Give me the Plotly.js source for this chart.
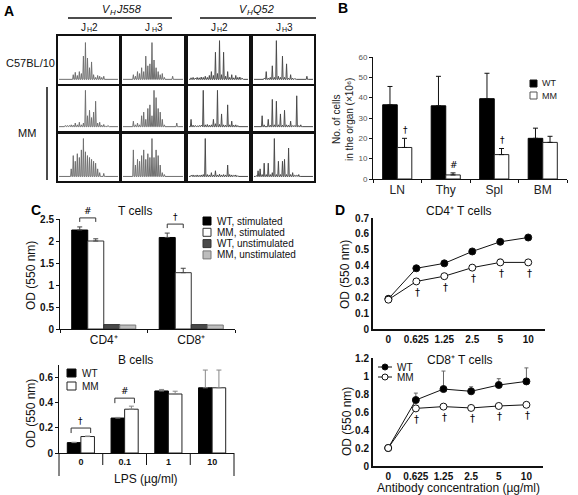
<!DOCTYPE html>
<html><head><meta charset="utf-8">
<script src="https://cdn.plot.ly/plotly-3.0.1.min.js"></script>
<style>html,body{margin:0;padding:0;background:#fff}#chart{width:578px;height:495px}</style>
</head><body><div id="chart"></div>
<script>
const W = 578, H = 495;
const FONT = 'Liberation Sans, Arial, Helvetica, sans-serif';
const SYMF = 'DejaVu Sans, Liberation Sans, sans-serif';

// ---------- Panel A: spectratype peak heights (relative) ----------
// gene labels: [main letter, subscript, rest]
const groupsA = [['V', 'H', 'J558'], ['V', 'H', 'Q52']];
const jLabelsA = [['J', 'H', '2'], ['J', 'H', '3'], ['J', 'H', '2'], ['J', 'H', '3']];
const strainsA = ['C57BL/10', 'MM'];
const c57_J558_JH2 = [0,0,0,0,0,0,0.12,0.18,0.1,0.2,0.15,0.6,0.95,0.55,0.3,0.45,0.12,0.05,0.1,0.08,0.05,0.08,0,0,0,0,0,0];
const c57_J558_JH3 = [0,0,0,0,0.12,0.08,0.2,0.15,0.3,0.2,0.6,0.35,0.4,0.95,0.5,0.3,0.2,0.12,0.15,0.05,0,0,0,0.08,0,0,0,0];
const c57_Q52_JH2  = [0.04,0.05,0.03,0.05,0.04,0.06,0.05,0.08,0.05,0.1,0.2,0.1,0.7,0.15,1.0,0.12,0.7,0.08,0.2,0.05,0.12,0.04,0.1,0.05,0.06,0.03,0,0];
const c57_Q52_JH3  = [0,0,0,0,0.03,0.2,0.03,0.05,0.35,0.05,1.0,0.08,0.05,0.6,0.05,0.4,0.03,0.12,0.03,0.02,0,0,0,0,0,0.08,0,0];
const mm1_J558_JH2 = [0.02,0.02,0.03,0.03,0.03,0.05,0.04,0.1,0.05,0.12,0.05,0.1,1.0,0.3,0.45,0.25,0.4,0.7,0.1,0.12,0.04,0.06,0.02,0.03,0,0,0,0];
const mm1_J558_JH3 = [0,0,0,0,0.15,0.05,0.1,0.05,0.3,0.4,0.2,0.5,0.6,0.3,1.0,0.8,0.5,0.4,0.2,0.05,0.02,0,0,0,0,0.1,0,0];
const mm1_Q52_JH2  = [0.2,0.04,0.03,0.02,0.03,0.04,1.0,0.05,0.06,0.04,0.05,0.2,0.08,1.0,0.06,0.35,0.05,0.04,0.6,0.05,0.15,0.04,0.05,0.03,0.02,0,0,0];
const mm1_Q52_JH3  = [0,0,0.02,0.3,0.05,0.02,0.2,0.04,0.75,0.05,0.7,0.05,0.35,0.04,0.45,0.05,0.04,0.15,0.03,0.03,0.85,0.03,0.05,0,0,0,0,0];
const mm2_J558_JH2 = [0,0,0,0,0,0.2,0.55,0.4,0.6,0.5,0.7,1.0,0.65,0.55,0.5,0.45,0.4,0.35,0.2,0.1,0,0.08,0,0,0,0,0,0];
const mm2_J558_JH3 = [0,0,0,0,0.7,0.3,0.45,0.4,0.55,0.7,0.45,0.6,0.5,1.0,0.5,0.7,0.55,0.3,0.1,0.05,0,0,0,0,0,0,0,0];
const mm2_Q52_JH2  = [0.03,0.04,0.03,0.04,0.03,0.04,0.05,1.0,0.05,0.04,0.1,0.04,0.15,0.04,0.06,0.04,0.05,0.04,0.3,0.05,0.04,0.03,0.04,0.02,0,0,0,0];
const mm2_Q52_JH3  = [0.02,0.15,0.2,0.05,0.35,0.05,0.35,0.05,0.1,1.0,0.05,0.4,0.05,0.4,0.45,0.05,0.75,0.05,0.1,0.03,0.03,0.05,0,0,0,0,0,0];

// ---------- Panel B ----------
const organsB = ['LN', 'Thy', 'Spl', 'BM'];
const wtB = [36.5, 36, 39.5, 20];
const wtErrB = [9, 14.5, 12.5, 5];
const mmB = [15.5, 2, 12, 18];
const mmErrB = [4.5, 1, 3, 3];
const sigB = ['†', '#', '†', ''];

// ---------- Panel C (T cells) ----------
const subsetsC = ['CD4⁺', 'CD8⁺'];
const wtStimC = [2.25, 2.08], wtStimErrC = [0.07, 0.1];
const mmStimC = [2.0, 1.28], mmStimErrC = [0.05, 0.1];
const wtUnstimC = [0.1, 0.1];
const mmUnstimC = [0.09, 0.09];
const sigC = ['#', '†'];
const legendC = ['WT, stimulated', 'MM, stimulated', 'WT, unstimulated', 'MM, unstimulated'];

// ---------- Panel C (B cells) ----------
const lpsC = ['0', '0.1', '1', '10'];
const wtLps = [0.082, 0.276, 0.49, 0.515], wtLpsErr = [0.003, 0.005, 0.012, 0.14];
const mmLps = [0.13, 0.346, 0.466, 0.515], mmLpsErr = [0.004, 0.024, 0.022, 0.14];
const sigLps = ['†', '#', '', ''];

// ---------- Panel D ----------
const concD = ['0', '0.625', '1.25', '2.5', '5', '10'];
const wtCD4 = [0.19, 0.383, 0.414, 0.489, 0.55, 0.577], wtCD4Err = [0.005, 0.01, 0.01, 0.01, 0.012, 0.01];
const mmCD4 = [0.185, 0.30, 0.333, 0.387, 0.42, 0.42], mmCD4Err = [0.005, 0.015, 0.012, 0.015, 0.02, 0.01];
const sigCD4 = ['', '†', '†', '†', '†', '†'];
const wtCD8 = [0.2, 0.733, 0.855, 0.83, 0.9, 0.94], wtCD8Err = [0.005, 0.077, 0.2, 0.05, 0.07, 0.15];
const mmCD8 = [0.2, 0.64, 0.66, 0.645, 0.667, 0.68], mmCD8Err = [0.005, 0.01, 0.01, 0.01, 0.01, 0.01];
const sigCD8 = ['', '†', '†', '†', '†', '†'];

// ---------- layout geometry (pixels) ----------
const colsA = [[58,119],[122,184],[188,249],[253,314]];
const rowsA = [[36,84],[86,131],[134,181]];
const gridA = [
  [c57_J558_JH2, c57_J558_JH3, c57_Q52_JH2, c57_Q52_JH3],
  [mm1_J558_JH2, mm1_J558_JH3, mm1_Q52_JH2, mm1_Q52_JH3],
  [mm2_J558_JH2, mm2_J558_JH3, mm2_Q52_JH2, mm2_Q52_JH3]
];
const G = {
  B:  {id:13, x0:373, x1:567, y0:179, y1:57,  xr:[-0.5,3.5],  yr:[0,60]},
  CT: {id:14, x0:60,  x1:235, y0:329, y1:219, xr:[-0.5,1.5],  yr:[0,2.5]},
  CB: {id:15, x0:59,  x1:234, y0:453, y1:365, xr:[-0.5,3.5],  yr:[0,0.695]},
  DT: {id:16, x0:373, x1:545, y0:329, y1:218, xr:[-0.55,5.6], yr:[0,0.7]},
  DB: {id:17, x0:373, x1:543, y0:466, y1:358, xr:[-0.55,5.6], yr:[0,1.2]}
};
const PX = p => p / W, PY = p => 1 - p / H;
function toPx(g, xv, yv) {
  return [g.x0 + (xv - g.xr[0]) / (g.xr[1] - g.xr[0]) * (g.x1 - g.x0),
          g.y0 - (yv - g.yr[0]) / (g.yr[1] - g.yr[0]) * (g.y0 - g.y1)];
}

const traces = [];
const layout = {
  width: W, height: H, margin: {l:0, r:0, t:0, b:0},
  paper_bgcolor: '#fff', plot_bgcolor: 'rgba(0,0,0,0)',
  showlegend: false, font: {family: FONT, color: '#111'},
  annotations: [], shapes: []
};
const ann = (x, y, text, o = {}) => layout.annotations.push(Object.assign({
  xref:'paper', yref:'paper', x:PX(x), y:PY(y), text, showarrow:false,
  font:{family:FONT, size:11, color:'#111'}, xanchor:'center', yanchor:'middle'}, o));
const line = (x0, y0, x1, y1, color = '#111', width = 1) => layout.shapes.push({
  type:'line', xref:'paper', yref:'paper', x0:PX(x0), y0:PY(y0), x1:PX(x1), y1:PY(y1),
  line:{color, width}});
const rect = (x0, y0, x1, y1, fill, lc = '#111') => layout.shapes.push({
  type:'rect', xref:'paper', yref:'paper', x0:PX(x0), y0:PY(y0), x1:PX(x1), y1:PY(y1),
  fillcolor:fill, line:{color:lc, width:1}});
const sym = (x, y, s, size) => ann(x, y, s, {font:{family:SYMF, size:size, color:'#000'}});
// label with a subscript, drawn as three pieces: main, subscript, rest
function subLabel(x, y, parts, size, wSub, italic) {
  const st = italic ? 'italic' : 'normal';
  const shift = italic ? 2.5 : 0;
  ann(x + shift, y, parts[0], {xanchor:'right', borderpad:0, font:{family:FONT, size:size, style:st, color:'#111'}});
  ann(x - 0.5, y + size * 0.3, parts[1], {xanchor:'left', borderpad:0, font:{family:FONT, size:Math.round(size * 0.7), style:st, color:'#111'}});
  ann(x - 0.5 + wSub, y, parts[2], {xanchor:'left', borderpad:0, font:{family:FONT, size:size, style:st, color:'#111'}});
}

// ---------- Panel A ----------
let n = 0;
rowsA.forEach((r, ri) => colsA.forEach((c, ci) => {
  n++;
  const id = n === 1 ? '' : String(n);
  const pk = gridA[ri][ci];
  const xs = [-1], ys = [0];
  pk.forEach((h, k) => { xs.push(k - 0.3, k, k + 0.3); ys.push(0, h, 0); });
  xs.push(pk.length); ys.push(0);
  traces.push({type:'scatter', mode:'lines', x:xs, y:ys, xaxis:'x'+id, yaxis:'y'+id,
    line:{color: ci >= 2 ? '#4a4a4a' : '#707070', width:1}, hoverinfo:'skip'});
  const ax = {showline:true, mirror:true, linewidth:2, linecolor:'#111', showticklabels:false,
    ticks:'', showgrid:false, zeroline:false};
  layout['xaxis'+id] = Object.assign({domain:[PX(c[0]), PX(c[1])], range:[-1.5, pk.length + 0.5], anchor:'y'+id}, ax);
  layout['yaxis'+id] = Object.assign({domain:[PY(r[1]), PY(r[0])], range:[-0.12, 1.12], anchor:'x'+id}, ax);
}));
ann(9, 11, '<b>A</b>', {font:{family:FONT, size:14, color:'#000'}});
subLabel(109, 9, groupsA[0], 11, 6, true);
subLabel(246, 9, groupsA[1], 11, 6, true);
line(68, 18, 172, 18, '#111', 1.5);
line(200, 18, 316, 18, '#111', 1.5);
colsA.forEach((c, i) => subLabel((c[0] + c[1]) / 2 - 2, 27, jLabelsA[i], 10, 5, false));
ann(30, 63, strainsA[0], {font:{family:FONT, size:11}});
ann(27, 133, strainsA[1], {font:{family:FONT, size:11}});
line(47, 87, 47, 180, '#111', 1.5);

// ---------- generic axis builders ----------
function axes(g, xo, yo) {
  const id = String(g.id);
  layout['xaxis'+id] = Object.assign({domain:[PX(g.x0), PX(g.x1)], range:g.xr, anchor:'y'+id,
    showline:true, linecolor:'#111', linewidth:1, showgrid:false, zeroline:false, fixedrange:true}, xo);
  layout['yaxis'+id] = Object.assign({domain:[PY(g.y0), PY(g.y1)], range:g.yr, anchor:'x'+id,
    showline:true, linecolor:'#111', linewidth:1, showgrid:false, zeroline:false, fixedrange:true}, yo);
}
const bold = (s) => ({family:FONT, size:s, color:'#111', weight:700});
function barTrace(g, cats, vals, errs, w, off, fill, lc) {
  const t = {type:'bar', x:cats, y:vals, width:w, offset:off, xaxis:'x'+g.id, yaxis:'y'+g.id,
    marker:{color:fill, line:{color:lc, width:1}}, hoverinfo:'skip'};
  if (errs) t.error_y = {type:'data', symmetric:false, array:errs, arrayminus:errs.map(() => 0),
    color:'#444', thickness:1, width:2.5};
  return t;
}

// ---------- Panel B ----------
axes(G.B,
  {type:'category', tickson:'boundaries', ticks:'outside', ticklen:3, tickcolor:'#111',
   tickfont:{family:FONT, size:12, color:'#222'}},
  {tick0:0, dtick:10, ticks:'outside', ticklen:3, tickcolor:'#111',
   tickfont:{family:FONT, size:8, color:'#555'}});
traces.push(barTrace(G.B, organsB, wtB, wtErrB, 0.3, -0.3, '#000', '#000'));
traces.push(barTrace(G.B, organsB, mmB, mmErrB, 0.3, 0, '#fff', '#222'));
traces[traces.length - 2].error_y.color = '#111';
traces[traces.length - 1].error_y.color = '#111';
sigB.forEach((s, i) => {
  if (!s) return;
  const p = toPx(G.B, i + 0.15, mmB[i] + mmErrB[i]);
  sym(p[0] + 1, p[1] - 8, s, 9);
});
ann(343, 120, 'No. of cells<br>in the organ (×10⁶)', {textangle:-90, font:{family:FONT, size:10, color:'#222'}});
ann(343, 8, '<b>B</b>', {font:{family:FONT, size:14, color:'#000'}});
rect(530, 80, 537, 87, '#000');
rect(530, 92, 537, 99, '#fff', '#555');
ann(540, 83.5, 'WT', {xanchor:'left', font:{family:FONT, size:9, color:'#222'}});
ann(540, 95.5, 'MM', {xanchor:'left', font:{family:FONT, size:9, color:'#222'}});

// ---------- Panel C top ----------
axes(G.CT,
  {type:'category', tickson:'boundaries', ticks:'outside', ticklen:3, tickcolor:'#111',
   tickfont:{family:FONT, size:12, color:'#111'}},
  {tick0:0, dtick:0.5, ticks:'outside', ticklen:3, tickcolor:'#111', tickfont:bold(10)});
const wC = 0.183, offC = [-2 * wC, -wC, 0, wC];
traces.push(barTrace(G.CT, subsetsC, wtStimC, wtStimErrC, wC, offC[0], '#000', '#000'));
traces.push(barTrace(G.CT, subsetsC, mmStimC, mmStimErrC, wC, offC[1], '#fff', '#333'));
traces.push(barTrace(G.CT, subsetsC, wtUnstimC, null, wC, offC[2], '#4a4a4a', '#333'));
traces.push(barTrace(G.CT, subsetsC, mmUnstimC, null, wC, offC[3], '#bdbdbd', '#777'));
sigC.forEach((s, i) => {
  const top = Math.max(wtStimC[i] + wtStimErrC[i], mmStimC[i] + mmStimErrC[i]);
  const a = toPx(G.CT, i + offC[0] + wC / 2, top), b = toPx(G.CT, i + offC[1] + wC / 2, top);
  const yb = a[1] - 9;
  layout.shapes.push({type:'path', xref:'paper', yref:'paper', line:{color:'#333', width:1},
    path:`M${PX(a[0])},${PY(yb+4)} L${PX(a[0])},${PY(yb)} L${PX(b[0])},${PY(yb)} L${PX(b[0])},${PY(yb+4)}`});
  sym((a[0] + b[0]) / 2, yb - 7, s, 9);
});
ann(36, 210, '<b>C</b>', {font:{family:FONT, size:14, color:'#000'}});
ann(135, 211, 'T cells', {font:{family:FONT, size:12, color:'#111'}});
ann(31, 276, 'OD (550 nm)', {textangle:-90, font:{family:FONT, size:12, color:'#111'}});
const legFillC = [['#000','#000'], ['#fff','#333'], ['#4a4a4a','#333'], ['#bdbdbd','#777']];
legendC.forEach((t, i) => {
  const yc = 221 + i * 11.3;
  rect(203, yc - 4, 211, yc + 4, legFillC[i][0], legFillC[i][1]);
  ann(215, yc, t, {xanchor:'left', font:{family:FONT, size:10, color:'#111'}});
});

// ---------- Panel C bottom ----------
axes(G.CB,
  {type:'category', ticks:'', tickvals:lpsC, ticktext:lpsC, tickfont:bold(9)},
  {tick0:0, dtick:0.2, ticks:'outside', ticklen:3, tickcolor:'#111', tickfont:bold(10)});
const wL = 0.31;
traces.push(barTrace(G.CB, lpsC, wtLps, wtLpsErr, wL, -wL, '#000', '#000'));
traces.push(barTrace(G.CB, lpsC, mmLps, mmLpsErr, wL, 0, '#fff', '#222'));
traces[traces.length - 2].error_y.color = '#888';
traces[traces.length - 1].error_y.color = '#888';
for (let k = 0; k <= lpsC.length; k++) {
  const p = toPx(G.CB, k - 0.5, 0);
  const end = (k === 0 || k === lpsC.length);
  line(p[0], p[1], p[0], p[1] + (end ? 23 : 12), '#111', 1);
}
sigLps.forEach((s, i) => {
  if (!s) return;
  const top = Math.max(wtLps[i] + wtLpsErr[i], mmLps[i] + mmLpsErr[i]);
  const a = toPx(G.CB, i - wL / 2, top), b = toPx(G.CB, i + wL / 2, top);
  const yb = a[1] - 8;
  layout.shapes.push({type:'path', xref:'paper', yref:'paper', line:{color:'#333', width:1},
    path:`M${PX(a[0]-3)},${PY(yb+5)} L${PX(a[0]-3)},${PY(yb)} L${PX(b[0]+3)},${PY(yb)} L${PX(b[0]+3)},${PY(yb+5)}`});
  sym((a[0] + b[0]) / 2, yb - 7, s, 9);
});
ann(135, 360, 'B cells', {font:{family:FONT, size:12, color:'#111'}});
ann(31, 414, 'OD (550 nm)', {textangle:-90, font:{family:FONT, size:12, color:'#111'}});
ann(146, 479, 'LPS (µg/ml)', {font:{family:FONT, size:12, color:'#111'}});
rect(67, 369, 76, 377, '#000');
rect(67, 382, 76, 390, '#fff', '#222');
ann(80, 373, 'WT', {xanchor:'left', font:{family:FONT, size:10, color:'#111'}});
ann(80, 386, 'MM', {xanchor:'left', font:{family:FONT, size:10, color:'#111'}});

// ---------- Panel D ----------
function lineTrace(g, vals, errs, filled) {
  return {type:'scatter', mode:'lines+markers', x:concD.map((_, i) => i), y:vals,
    xaxis:'x'+g.id, yaxis:'y'+g.id, cliponaxis:false,
    line:{color:'#111', width:1},
    marker:{size:7, color: filled ? '#000' : '#fff', line:{color:'#111', width:1}},
    error_y:{type:'data', symmetric:false, array:errs, arrayminus:errs.map(() => 0),
      color:'#666', thickness:1, width:2}, hoverinfo:'skip'};
}
[[G.DT, wtCD4, wtCD4Err, mmCD4, mmCD4Err, sigCD4, 0.1],
 [G.DB, wtCD8, wtCD8Err, mmCD8, mmCD8Err, sigCD8, 0.2]].forEach(([g, wt, wtE, mm, mmE, sig, dt]) => {
  axes(g,
    {tickmode:'array', tickvals:concD.map((_, i) => i), ticktext:concD, ticks:'', linewidth:2, tickfont:bold(10)},
    {tick0:0, dtick:dt, ticks:'', linewidth:2, tickfont:bold(10)});
  traces.push(lineTrace(g, wt, wtE, true));
  traces.push(lineTrace(g, mm, mmE, false));
  sig.forEach((s, i) => {
    if (!s) return;
    const p = toPx(g, i, mm[i]);
    sym(p[0] + 1, p[1] + 11, s, 10);
  });
});
ann(340, 210, '<b>D</b>', {font:{family:FONT, size:14, color:'#000'}});
ann(459, 211, 'CD4⁺ T cells', {font:{family:FONT, size:12, color:'#111'}});
ann(460, 360, 'CD8⁺ T cells', {font:{family:FONT, size:12, color:'#111'}});
ann(345, 275, 'OD (550 nm)', {textangle:-90, font:{family:FONT, size:12, color:'#111'}});
ann(347, 422, 'OD (550 nm)', {textangle:-90, font:{family:FONT, size:12, color:'#111'}});
ann(458, 488, 'Antibody concentration (µg/ml)', {font:{family:FONT, size:12, color:'#111'}});
line(378, 367, 392, 367, '#111', 1);
line(378, 377, 392, 377, '#111', 1);
layout.shapes.push({type:'circle', xref:'paper', yref:'paper', x0:PX(382), x1:PX(388), y0:PY(370), y1:PY(364), fillcolor:'#000', line:{color:'#111', width:1}});
layout.shapes.push({type:'circle', xref:'paper', yref:'paper', x0:PX(382), x1:PX(388), y0:PY(380), y1:PY(374), fillcolor:'#fff', line:{color:'#111', width:1}});
ann(395, 367, 'WT', {xanchor:'left', font:{family:FONT, size:10, color:'#111'}});
ann(395, 377, 'MM', {xanchor:'left', font:{family:FONT, size:10, color:'#111'}});

Plotly.newPlot('chart', traces, layout, {staticPlot:true, displayModeBar:false});
</script></body></html>
